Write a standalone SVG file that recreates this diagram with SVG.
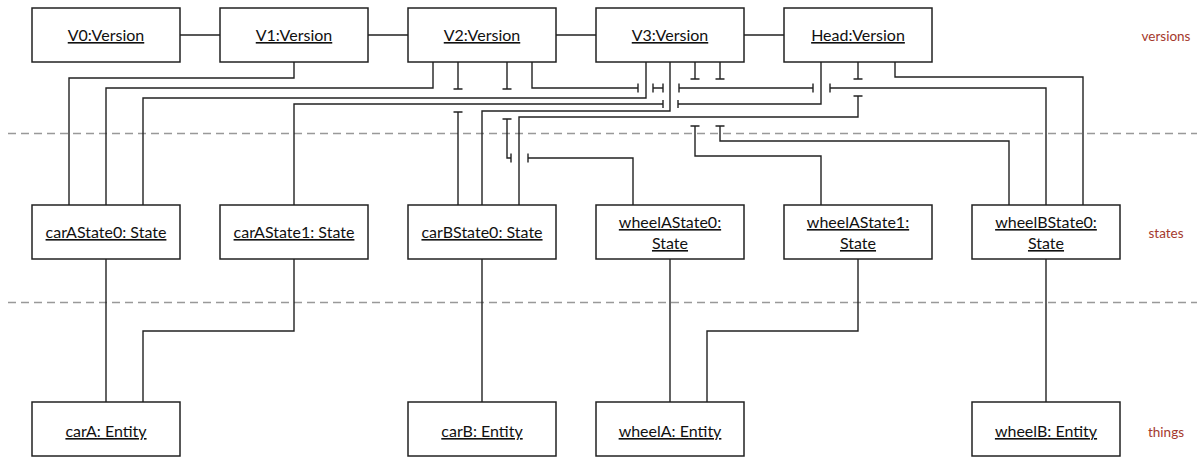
<svg xmlns="http://www.w3.org/2000/svg" width="1197" height="459" viewBox="0 0 1197 459">
<style>
.box{fill:#fff;stroke:#222;stroke-width:1.5}
.lbl{font-family:Lato,"Open Sans","Liberation Sans",sans-serif;font-size:16px;fill:#111;text-anchor:middle;text-decoration:underline}
.layer{font-family:Lato,"Open Sans","Liberation Sans",sans-serif;font-size:13.5px;fill:#a4392c;text-anchor:middle}
.sep{stroke:#999;stroke-width:1.3;stroke-dasharray:8 5;fill:none}
.c{fill:none;stroke:#222;stroke-width:1.4}
</style>
<rect width="1197" height="459" fill="#fff"/>
<line class="sep" x1="8" y1="133.5" x2="1197" y2="133.5"/>
<line class="sep" x1="8" y1="302.5" x2="1197" y2="302.5"/>
<text class="layer" x="1166" y="41">versions</text>
<text class="layer" x="1166" y="238">states</text>
<text class="layer" x="1166" y="437">things</text>
<g id="connectors" class="c">
<path d="M180 35H220M368 35H408M556 35H596M744 35H784"/>
<path d="M294 62V78H69V205"/>
<path d="M433 62V88H106V205"/>
<path d="M646 62V98H143V205"/>
<path d="M821 62V104H678M678 100V108M663 100V108M663 104H294V205"/>
<path d="M458 62V89M453.5 89H462.5M453.5 112H462.5M458 112V205"/>
<path d="M670 62V111H482V205"/>
<path d="M858 62V79M853.5 79H862.5M853.5 96H862.5M858 96V117H519V205"/>
<path d="M507 62V89M502.5 89H511.5M502.5 119H511.5M507 119V158H511M511 153.5V162.5M528 153.5V162.5M528 158H633V205"/>
<path d="M695 62V79M690.5 79H699.5M690.5 126H699.5M695 126V156H821V205"/>
<path d="M720 62V79M715.5 79H724.5M715.5 126H724.5M720 126V141H1009V205"/>
<path d="M532 62V88H638M638 83.5V92.5M653 83.5V92.5M653 88H663M663 83.5V92.5M679 83.5V92.5M679 88H813M813 83.5V92.5M830 83.5V92.5M830 88H1046V205"/>
<path d="M895 62V77H1083V205"/>
<path d="M106 259V402"/>
<path d="M294 259V331H143V402"/>
<path d="M482 259V402"/>
<path d="M670 259V402"/>
<path d="M858 259V331H707V402"/>
<path d="M1046 259V402"/>
</g>
<g id="V0"><rect class="box" x="32" y="8" width="148" height="54"/><text class="lbl" x="106" y="41">V0:Version</text></g>
<g id="V1"><rect class="box" x="220" y="8" width="148" height="54"/><text class="lbl" x="294" y="41">V1:Version</text></g>
<g id="V2"><rect class="box" x="408" y="8" width="148" height="54"/><text class="lbl" x="482" y="41">V2:Version</text></g>
<g id="V3"><rect class="box" x="596" y="8" width="148" height="54"/><text class="lbl" x="670" y="41">V3:Version</text></g>
<g id="Head"><rect class="box" x="784" y="8" width="148" height="54"/><text class="lbl" x="858" y="41">Head:Version</text></g>
<g id="carAState0"><rect class="box" x="32" y="205" width="148" height="54"/><text class="lbl" x="106" y="238">carAState0: State</text></g>
<g id="carAState1"><rect class="box" x="220" y="205" width="148" height="54"/><text class="lbl" x="294" y="238">carAState1: State</text></g>
<g id="carBState0"><rect class="box" x="408" y="205" width="148" height="54"/><text class="lbl" x="482" y="238">carBState0: State</text></g>
<g id="wheelAState0"><rect class="box" x="596" y="205" width="148" height="54"/><text class="lbl" x="670" y="228">wheelAState0:</text><text class="lbl" x="670" y="249">State</text></g>
<g id="wheelAState1"><rect class="box" x="784" y="205" width="148" height="54"/><text class="lbl" x="858" y="228">wheelAState1:</text><text class="lbl" x="858" y="249">State</text></g>
<g id="wheelBState0"><rect class="box" x="972" y="205" width="148" height="54"/><text class="lbl" x="1046" y="228">wheelBState0:</text><text class="lbl" x="1046" y="249">State</text></g>
<g id="carA"><rect class="box" x="32" y="402" width="148" height="54"/><text class="lbl" x="106" y="437">carA: Entity</text></g>
<g id="carB"><rect class="box" x="408" y="402" width="148" height="54"/><text class="lbl" x="482" y="437">carB: Entity</text></g>
<g id="wheelA"><rect class="box" x="596" y="402" width="148" height="54"/><text class="lbl" x="670" y="437">wheelA: Entity</text></g>
<g id="wheelB"><rect class="box" x="972" y="402" width="148" height="54"/><text class="lbl" x="1046" y="437">wheelB: Entity</text></g>
</svg>
